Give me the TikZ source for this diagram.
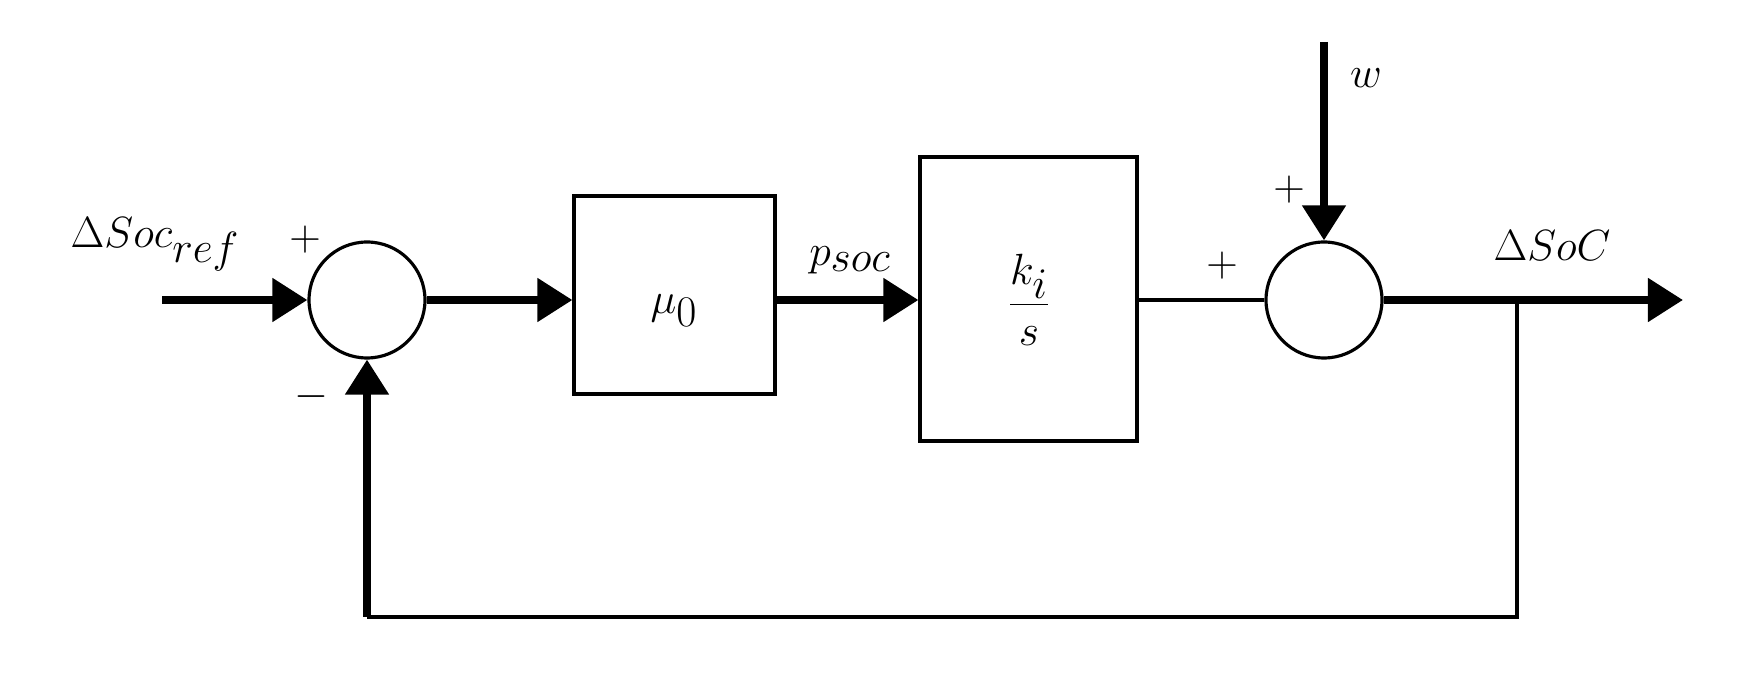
\documentclass[tikz,border=0pt]{standalone}
\usepackage{amsmath}
\usetikzlibrary{arrows.meta}
\begin{document}
\begin{tikzpicture}[x=0.02cm,y=-0.02cm,
  thin line/.style={line width=1.8pt},
  thick line/.style={line width=4.5pt},
  arr/.style={-{Triangle[length=20pt,width=24pt]}},
  blk/.style={draw,line width=1.8pt,inner sep=0pt},
  sum/.style={draw,circle,line width=1.8pt,minimum size=2.32cm,inner sep=0pt},
  lbl/.style={font=\fontsize{38}{44}\selectfont}]
\useasboundingbox (0,0) rectangle (1744,688);
\node[sum] (s1) at (367,300) {};
\node[sum] (s2) at (1324,300) {};
\node[blk,minimum width=4.02cm,minimum height=3.96cm] (b1) at (674.5,295) {};
\node[blk,minimum width=4.34cm,minimum height=5.68cm] (b2) at (1028.5,299) {};
\coordinate (in) at (162,300);
\coordinate (w) at (1324,42);
\coordinate (br) at (1517,300);
\coordinate (out) at (1683,300);
\coordinate (bl) at (1517,617);
\coordinate (fb) at (367,617);
\draw[thick line,arr] (in) -- (s1.west);
\draw[thick line,arr] (s1.east) -- (s1.east -| b1.west);
\draw[thick line,arr] (s1.east -| b1.east) -- (s1.east -| b2.west);
\draw[thin line] (s2.west -| b2.east) -- (s2.west);
\draw[thick line,arr] (w) -- (s2.north);
\draw[thick line,arr] (s2.east) -- (out);
\draw[thin line] (br) -- (bl) -- (fb);
\draw[thick line,arr] (fb) -- (s1.south);
\node[lbl] (lref) at (155,244) {$\Delta Soc_{ref}$};
\node[lbl] (p1) at (305,240) {$+$};
\node[lbl] (m1) at (311,397) {$-$};
\node[lbl] (lp) at (850,260) {$p_{soc}$};
\node[lbl] (lmu) at (674,311) {$\mu_0$};
\node[lbl] (lk) at (1029,300) {$\dfrac{k_i}{s}$};
\node[lbl] (p2) at (1222,266) {$+$};
\node[lbl] (p3) at (1289,190) {$+$};
\node[lbl] (lw) at (1366,78) {$w$};
\node[lbl] (lsoc) at (1552,246) {$\Delta SoC$};
\end{tikzpicture}
\end{document}
